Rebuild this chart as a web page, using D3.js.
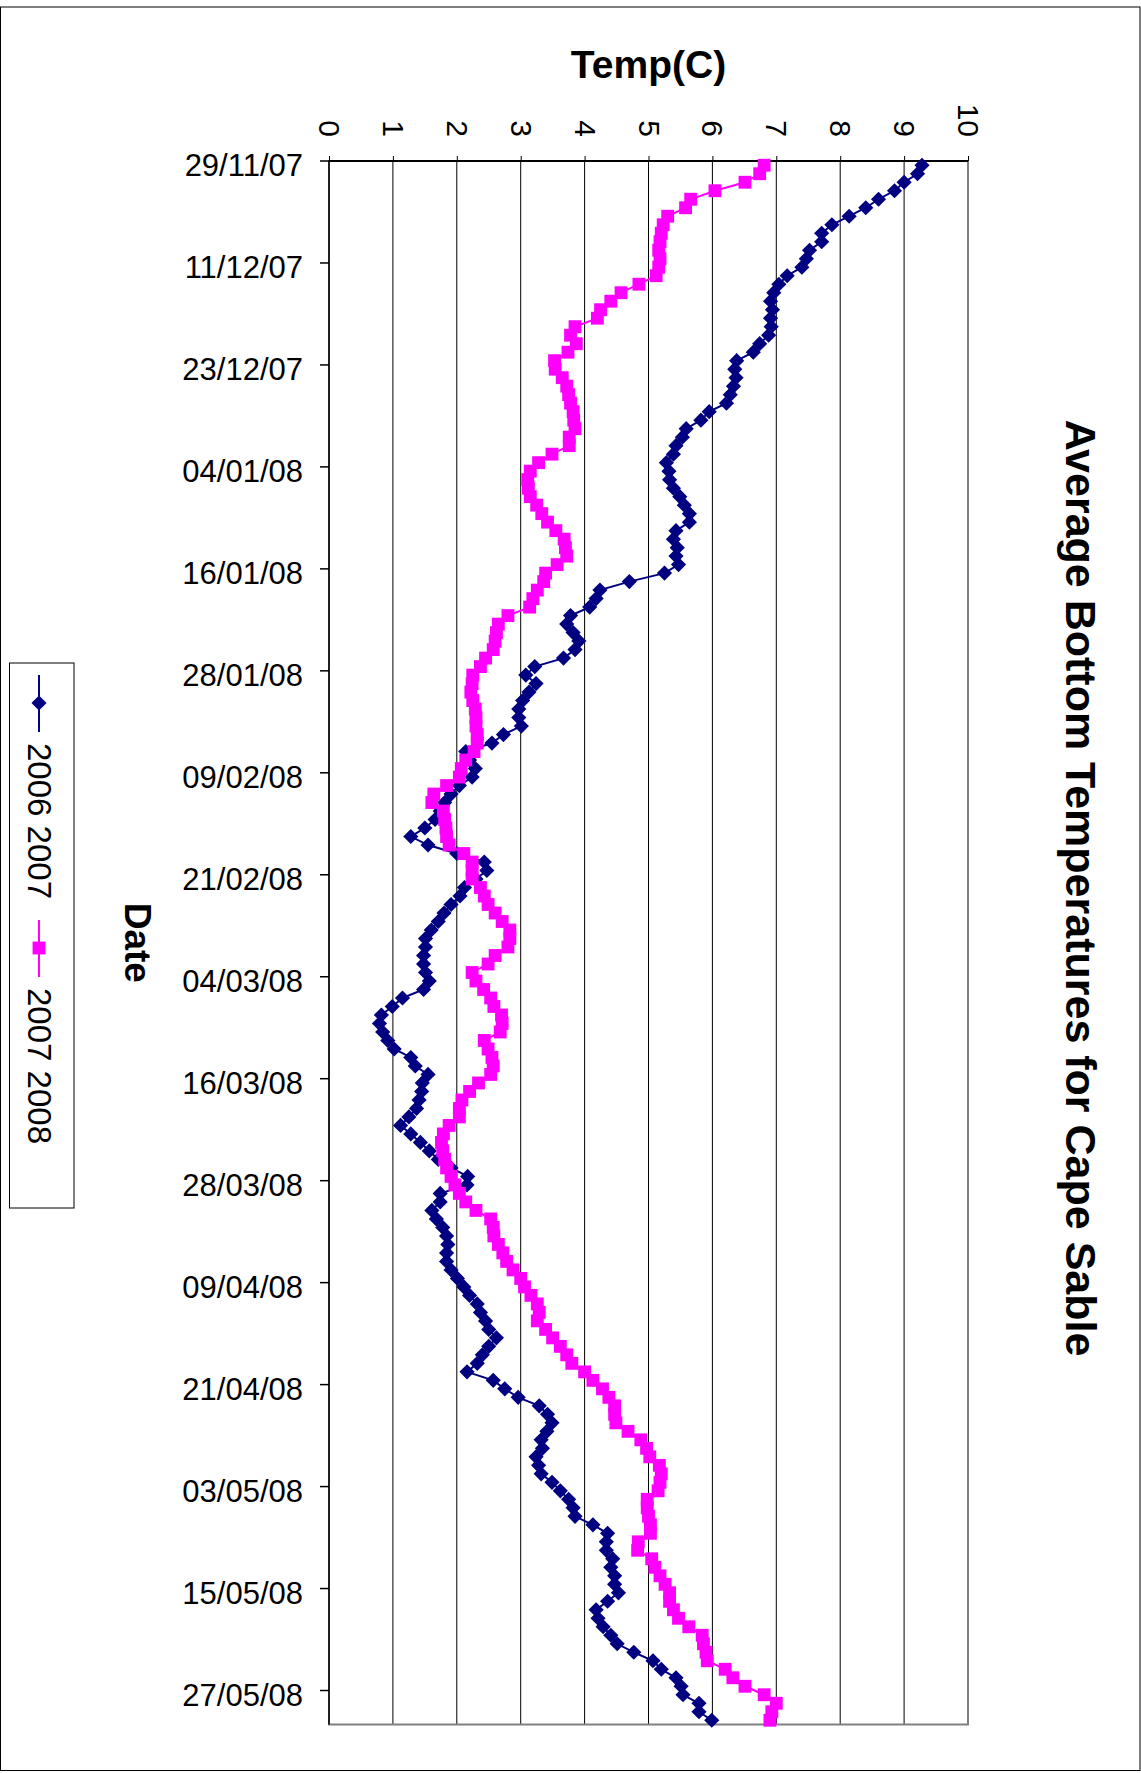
<!DOCTYPE html>
<meta charset="utf-8">
<title>Average Bottom Temperatures for Cape Sable</title>
<style>
body {
  margin: 0px;
  background: #fff;
}
svg {
  display: block;
  font-family: "Liberation Sans", Arial, sans-serif;
}
.grid line { stroke: #000; stroke-width: 1; }
.axis text { fill: #000; }
.axis path { display: none; }
.axis line { stroke: #000; stroke-width: 1.5; }
</style>
<script src="https://d3js.org/d3.v7.min.js"></script>
<body>
<script>
var width = 1141, height = 1773;

// daily averages, 29/11 -> 30/05
var temps0607 = [
  9.28, 9.21, 9.0, 8.85, 8.6, 8.4, 8.14, 7.87, 7.71, 7.71,
  7.52, 7.47, 7.4, 7.17, 7.04, 6.96, 6.91, 6.94, 6.91, 6.92,
  6.88, 6.74, 6.64, 6.38, 6.35, 6.37, 6.33, 6.28, 6.22, 5.95,
  5.82, 5.59, 5.53, 5.43, 5.39, 5.28, 5.32, 5.33, 5.39, 5.49,
  5.56, 5.64, 5.64, 5.43, 5.39, 5.45, 5.43, 5.47, 5.25, 4.7,
  4.24, 4.18, 4.08, 3.78, 3.72, 3.82, 3.91, 3.85, 3.67, 3.22,
  3.08, 3.24, 3.13, 3.03, 2.97, 2.97, 3.01, 2.73, 2.55, 2.14,
  2.2, 2.29, 2.24, 2.04, 1.91, 1.81, 1.74, 1.66, 1.5, 1.28,
  1.55, 2.0, 2.43, 2.47, 2.3, 2.12, 2.05, 1.91, 1.8, 1.71,
  1.6, 1.51, 1.51, 1.48, 1.48, 1.51, 1.57, 1.48, 1.15, 0.99,
  0.82, 0.79, 0.84, 0.92, 1.02, 1.28, 1.35, 1.55, 1.46, 1.45,
  1.41, 1.37, 1.25, 1.12, 1.28, 1.43, 1.57, 1.71, 1.91, 2.17,
  2.16, 1.74, 1.74, 1.61, 1.68, 1.78, 1.84, 1.86, 1.84, 1.84,
  1.91, 2.01, 2.11, 2.2, 2.32, 2.37, 2.45, 2.5, 2.62, 2.5,
  2.4, 2.32, 2.16, 2.57, 2.75, 2.96, 3.29, 3.42, 3.49, 3.41,
  3.32, 3.34, 3.24, 3.28, 3.32, 3.49, 3.62, 3.75, 3.82, 3.85,
  4.13, 4.36, 4.34, 4.34, 4.44, 4.41, 4.47, 4.47, 4.53, 4.36,
  4.18, 4.21, 4.29, 4.41, 4.51, 4.77, 5.07, 5.2, 5.43, 5.51,
  5.54, 5.79, 5.79, 5.99
];
var temps0708 = [
  6.81, 6.74, 6.51, 6.04, 5.66, 5.58, 5.3, 5.23, 5.2, 5.18,
  5.16, 5.18, 5.16, 5.12, 4.85, 4.57, 4.41, 4.25, 4.2, 3.85,
  3.78, 3.87, 3.74, 3.53, 3.54, 3.65, 3.72, 3.75, 3.78, 3.82,
  3.83, 3.85, 3.76, 3.76, 3.49, 3.28, 3.15, 3.11, 3.12, 3.15,
  3.25, 3.33, 3.42, 3.55, 3.68, 3.7, 3.72, 3.57, 3.39, 3.36,
  3.26, 3.19, 3.14, 2.8, 2.65, 2.62, 2.6, 2.57, 2.45, 2.37,
  2.25, 2.24, 2.22, 2.25, 2.29, 2.3, 2.3, 2.32, 2.32, 2.27,
  2.14, 2.07, 2.04, 1.84, 1.64, 1.61, 1.79, 1.81, 1.83, 1.84,
  1.88, 2.11, 2.24, 2.24, 2.24, 2.37, 2.43, 2.49, 2.6, 2.71,
  2.83, 2.83, 2.8, 2.6, 2.49, 2.24, 2.3, 2.42, 2.53, 2.58,
  2.7, 2.71, 2.68, 2.43, 2.49, 2.55, 2.57, 2.53, 2.34, 2.2,
  2.08, 2.04, 2.04, 1.88, 1.79, 1.76, 1.78, 1.81, 1.84, 1.91,
  1.97, 2.04, 2.14, 2.3, 2.53, 2.57, 2.58, 2.65, 2.72, 2.78,
  2.88, 3.0, 3.06, 3.16, 3.26, 3.29, 3.26, 3.39, 3.5, 3.62,
  3.72, 3.8, 4.0, 4.13, 4.28, 4.38, 4.47, 4.47, 4.49, 4.68,
  4.88, 4.97, 5.02, 5.17, 5.2, 5.18, 5.15, 4.98, 4.98, 5.0,
  5.03, 5.03, 4.84, 4.83, 5.05, 5.1, 5.18, 5.26, 5.33, 5.33,
  5.39, 5.47, 5.63, 5.84, 5.86, 5.9, 5.92, 6.2, 6.32, 6.51,
  6.81, 7.0, 6.93, 6.9
];
var seriesNames = ["2006 2007", "2007 2008"];
var seriesColors = ["#000080", "#ff00ff"];
var tempTicks = [0, 1, 2, 3, 4, 5, 6, 7, 8, 9, 10];
var dateTicks = ["29/11/07", "11/12/07", "23/12/07", "04/01/08", "16/01/08",
  "28/01/08", "09/02/08", "21/02/08", "04/03/08", "16/03/08", "28/03/08",
  "09/04/08", "21/04/08", "03/05/08", "15/05/08", "27/05/08"];

var fmt = d3.timeFormat("%d/%m/%y");
var days = d3.timeDay.range(new Date(2007, 10, 29), new Date(2008, 4, 31)).map(fmt);

var plot = {left: 329, right: 968, top: 161, bottom: 1724.5};

var svg = d3.select("body").append("svg")
    .attr("width", width)
    .attr("height", height);

// chart border
svg.append("rect")
    .attr("x", 0.5).attr("y", 7)
    .attr("width", 1139.5).attr("height", 1763.5)
    .attr("fill", "none").attr("stroke", "#000").attr("stroke-width", 1);

var x = d3.scaleLinear().domain([0, 10]).range([plot.left, plot.right]);
var y = d3.scaleBand().domain(days).range([plot.top, plot.bottom]).padding(0);
var bw = y.bandwidth();

// gridlines
svg.append("g").attr("class", "grid")
  .selectAll("line")
    .data(tempTicks)
  .enter().append("line")
    .attr("x1", d => x(d)).attr("x2", d => x(d))
    .attr("y1", plot.top).attr("y2", plot.bottom);

svg.append("rect")
    .attr("x", plot.left).attr("y", plot.top)
    .attr("width", plot.right - plot.left).attr("height", plot.bottom - plot.top)
    .attr("fill", "none").attr("stroke", "#808080").attr("stroke-width", 2);

// temp axis (top), labels turned with the page
var xAxis = svg.append("g").attr("class", "axis")
    .attr("transform", "translate(0," + plot.top + ")")
    .call(d3.axisTop(x).tickValues(tempTicks).tickSize(5).tickFormat(d3.format("d")));
xAxis.selectAll("text")
    .attr("x", 0).attr("y", 0).attr("dy", null)
    .attr("transform", "translate(0,-24) rotate(90)")
    .attr("text-anchor", "end")
    .attr("dominant-baseline", "central")
    .style("font-size", "30px");
xAxis.selectAll("line").style("stroke-width", 1);
svg.append("line")
    .attr("x1", plot.left).attr("x2", plot.right)
    .attr("y1", plot.top).attr("y2", plot.top)
    .attr("stroke", "#000").attr("stroke-width", 2);

// date axis (left)
var yAxis = svg.append("g").attr("class", "axis")
    .attr("transform", "translate(" + plot.left + ",0)")
    .call(d3.axisLeft(y).tickValues(dateTicks).tickSize(9).tickPadding(17));
yAxis.selectAll("line")
    .attr("y1", -bw / 2).attr("y2", -bw / 2)
    .style("stroke-width", 1.5);
yAxis.selectAll("text")
    .attr("dy", "0.35em")
    .style("font-size", "31px");
svg.append("line")
    .attr("x1", plot.left).attr("x2", plot.left)
    .attr("y1", plot.top).attr("y2", plot.bottom)
    .attr("stroke", "#000").attr("stroke-width", 1.5);

// series
var line = d3.line()
    .x(d => x(d.v))
    .y(d => y(d.k) + bw / 2);

var series = [temps0607, temps0708].map(function(vals, i) {
  return {name: seriesNames[i], color: seriesColors[i],
          values: vals.map(function(v, j) { return {k: days[j], v: v}; })};
});

var diamond = d3.symbol().type(d3.symbolSquare).size(115);
var square = d3.symbol().type(d3.symbolSquare).size(165);

series.forEach(function(s, i) {
  var g = svg.append("g");
  g.append("path")
      .datum(s.values)
      .attr("fill", "none")
      .attr("stroke", s.color)
      .attr("stroke-width", 2)
      .attr("d", line);
  g.selectAll("path.pt")
      .data(s.values)
    .enter().append("path")
      .attr("class", "pt")
      .attr("fill", s.color)
      .attr("d", i == 0 ? diamond : square)
      .attr("transform", function(d) {
        return "translate(" + x(d.v) + "," + (y(d.k) + bw / 2) + ")" + (i == 0 ? " rotate(45)" : "");
      });
});

// titles
svg.append("text")
    .attr("transform", "translate(1081,888) rotate(90)")
    .attr("text-anchor", "middle")
    .attr("dominant-baseline", "central")
    .style("font-weight", "bold")
    .style("font-size", "43px")
    .text("Average Bottom Temperatures for Cape Sable");

svg.append("text")
    .attr("x", (plot.left + plot.right) / 2)
    .attr("y", 64)
    .attr("text-anchor", "middle")
    .attr("dominant-baseline", "central")
    .style("font-weight", "bold")
    .style("font-size", "39px")
    .text("Temp(C)");

svg.append("text")
    .attr("transform", "translate(137," + (plot.top + plot.bottom) / 2 + ") rotate(90)")
    .attr("text-anchor", "middle")
    .attr("dominant-baseline", "central")
    .style("font-weight", "bold")
    .style("font-size", "37px")
    .text("Date");

// legend
var legend = svg.append("g").attr("class", "legend");
legend.append("rect")
    .attr("x", 9.5).attr("y", 663)
    .attr("width", 64.5).attr("height", 545)
    .attr("fill", "#fff").attr("stroke", "#000").attr("stroke-width", 1);

var legendTop = [675, 920];
series.forEach(function(s, i) {
  var y0 = legendTop[i];
  legend.append("line")
      .attr("x1", 39).attr("x2", 39)
      .attr("y1", y0).attr("y2", y0 + 57)
      .attr("stroke", s.color).attr("stroke-width", 2);
  legend.append("path")
      .attr("fill", s.color)
      .attr("d", i == 0 ? diamond : square)
      .attr("transform", "translate(39," + (y0 + 28) + ")" + (i == 0 ? " rotate(45)" : ""));
  legend.append("text")
      .attr("transform", "translate(39," + (y0 + 68) + ") rotate(90)")
      .attr("dominant-baseline", "central")
      .style("font-size", "33px")
      .text(s.name);
});
</script>
